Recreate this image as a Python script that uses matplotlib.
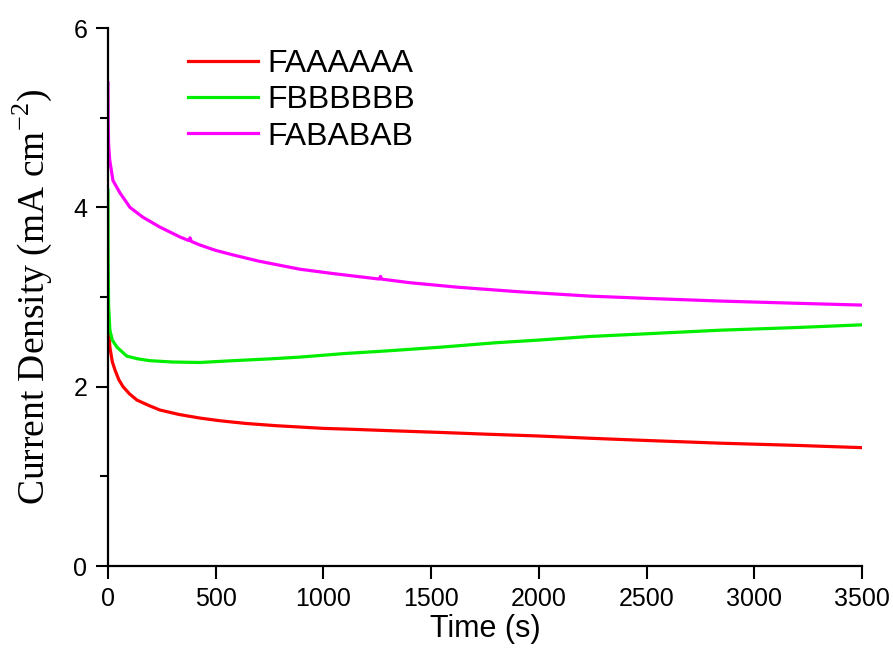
import numpy as np
import matplotlib
matplotlib.use("Agg")
import matplotlib.pyplot as plt
from matplotlib.ticker import MultipleLocator

# Time (s) and current density (mA cm^-2)
t_a = [0, 2, 9, 20, 32, 50, 70, 100, 135, 190, 241, 330, 427, 520, 640, 780, 891, 1000, 1130, 1300, 1541, 1760, 2000, 2237, 2500, 2841, 3200, 3500]
j_a = [2.85, 2.65, 2.44, 2.28, 2.19, 2.08, 2.00, 1.92, 1.85, 1.79, 1.74, 1.69, 1.65, 1.62, 1.59, 1.565, 1.55, 1.535, 1.525, 1.51, 1.49, 1.47, 1.45, 1.425, 1.40, 1.37, 1.345, 1.32]

t_b = [0, 1, 3, 9, 20, 42, 88, 140, 195, 300, 427, 580, 750, 891, 1100, 1300, 1541, 1800, 2000, 2237, 2500, 2841, 3200, 3500]
j_b = [4.19, 3.40, 2.90, 2.63, 2.52, 2.44, 2.34, 2.31, 2.29, 2.275, 2.27, 2.29, 2.31, 2.33, 2.37, 2.40, 2.44, 2.49, 2.52, 2.56, 2.59, 2.63, 2.66, 2.69]

t_ab = [0, 1, 3, 8, 23, 56, 102, 162, 241, 334, 375, 381, 387, 427, 500, 580, 700, 891, 1050, 1260, 1265, 1270, 1400, 1620, 1900, 2237, 2500, 2841, 3200, 3500]
j_ab = [5.39, 4.95, 4.70, 4.53, 4.30, 4.16, 4.00, 3.89, 3.78, 3.67, 3.63, 3.66, 3.62, 3.58, 3.52, 3.47, 3.40, 3.31, 3.26, 3.20, 3.23, 3.20, 3.16, 3.11, 3.06, 3.01, 2.985, 2.955, 2.93, 2.91]

labels = ["FAAAAAA", "FBBBBBB", "FABABAB"]
colors = ["#ff0000", "#00ee00", "#ff00ff"]

plt.rcParams['font.family'] = ['Liberation Sans', 'DejaVu Sans']
plt.rcParams['mathtext.fontset'] = 'custom'
plt.rcParams['mathtext.rm'] = 'Liberation Serif'

fig = plt.figure(figsize=(8.93, 6.61), dpi=100)
ax = fig.add_axes([0.1209, 0.1437, 0.8444, 0.8139])

ax.plot(t_a, j_a, color=colors[0], lw=2.3, label=labels[0])
ax.plot(t_b, j_b, color=colors[1], lw=2.3, label=labels[1])
ax.plot(t_ab, j_ab, color=colors[2], lw=2.3, label=labels[2])

ax.set_xlim(0, 3500)
ax.set_ylim(0, 6)
ax.xaxis.set_major_locator(MultipleLocator(500))
ax.yaxis.set_major_locator(MultipleLocator(2))
ax.yaxis.set_minor_locator(MultipleLocator(1))

ax.spines['top'].set_visible(False)
ax.spines['right'].set_visible(False)
ax.spines['left'].set_linewidth(1.6)
ax.spines['bottom'].set_linewidth(1.6)
ax.tick_params(which='major', direction='out', length=9, width=1.5, labelsize=18, pad=6)
ax.tick_params(which='minor', direction='out', length=6, width=1.5)

ax.set_xlabel('Time (s)', fontsize=22, labelpad=2)
ax.set_ylabel('Current Density (mA cm$^{\\mathrm{-2}}$)', fontsize=27,
              fontfamily='Liberation Serif', labelpad=14)

ax.legend(loc='upper left', bbox_to_anchor=(0.089, 0.985), borderaxespad=0,
          frameon=False, fontsize=23, handlelength=2.2, handletextpad=0.3,
          labelspacing=0.2)

fig.savefig('out.png', dpi=100)
